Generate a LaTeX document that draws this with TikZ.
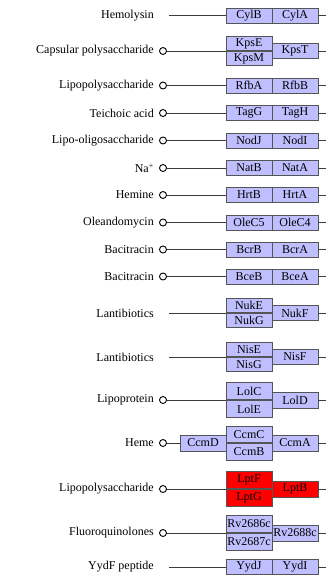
\documentclass[tikz,border=0pt]{standalone}
\usepackage{fontspec}
\setmainfont{Liberation Serif}
\definecolor{genblue}{RGB}{191,191,255}
\definecolor{boxgray}{RGB}{85,85,85}
\definecolor{wiregray}{RGB}{60,60,60}
\begin{document}
\begin{tikzpicture}[x=1pt, y=-1pt,
        lbl/.style={anchor=east, inner sep=0pt, font=\fontsize{12}{14}\selectfont},
        gene/.style={draw=boxgray, fill=genblue, line width=0.9pt, minimum width=46pt, minimum height=15pt, inner sep=0pt, font=\fontsize{12}{14}\selectfont},
        half/.style={gene, minimum height=14pt},
        tall/.style={gene, minimum height=17pt},
        hit/.style={fill=red},
        port/.style={circle, draw=black, line width=0.9pt, minimum size=7pt, inner sep=0pt},
        wire/.style={draw=wiregray, line width=0.9pt}]
    \useasboundingbox (0,0) rectangle (326,576);

    \node[lbl] (hemolysin) at (154,15.5) {Hemolysin};
    \coordinate (s1) at (169,15.5);
    \node[gene] (cylB) at (249,15.5) {CylB};
    \node[gene] (cylA) at (295,15.5) {CylA};
    \coordinate (e1) at (326,15.5);

    \node[lbl] (capsular) at (154,51) {Capsular polysaccharide};
    \node[port] (c2) at (163,51) {};
    \node[half, anchor=south] (kpsE) at (249,51) {KpsE};
    \node[half, anchor=north] (kpsM) at (249,51) {KpsM};
    \node[gene] (kpsT) at (295,51) {KpsT};
    \coordinate (e2) at (326,51);

    \node[lbl] (lps) at (154,85.5) {Lipopolysaccharide};
    \node[port] (c3) at (163,85.5) {};
    \node[gene] (rfbA) at (249,85.5) {RfbA};
    \node[gene] (rfbB) at (295,85.5) {RfbB};
    \coordinate (e3) at (326,85.5);

    \node[lbl] (teichoic) at (154,113) {Teichoic acid};
    \node[port] (c4) at (163,113) {};
    \node[gene] (tagG) at (249,113) {TagG};
    \node[gene] (tagH) at (295,113) {TagH};
    \coordinate (e4) at (326,113);

    \node[lbl] (lipooligo) at (154,140.5) {Lipo-oligosaccharide};
    \node[port] (c5) at (163,140.5) {};
    \node[gene] (nodJ) at (249,140.5) {NodJ};
    \node[gene] (nodI) at (295,140.5) {NodI};
    \coordinate (e5) at (326,140.5);

    \node[lbl] (sodium) at (154,168) {Na\textsuperscript{+}};
    \node[port] (c6) at (163,168) {};
    \node[gene] (natB) at (249,168) {NatB};
    \node[gene] (natA) at (295,168) {NatA};
    \coordinate (e6) at (326,168);

    \node[lbl] (hemine) at (154,195) {Hemine};
    \node[port] (c7) at (163,195) {};
    \node[gene] (hrtB) at (249,195) {HrtB};
    \node[gene] (hrtA) at (295,195) {HrtA};
    \coordinate (e7) at (326,195);

    \node[lbl] (oleando) at (154,222.5) {Oleandomycin};
    \node[port] (c8) at (163,222.5) {};
    \node[gene] (oleC5) at (249,222.5) {OleC5};
    \node[gene] (oleC4) at (295,222.5) {OleC4};
    \coordinate (e8) at (326,222.5);

    \node[lbl] (bacitracinA) at (154,249.5) {Bacitracin};
    \node[port] (c9) at (163,249.5) {};
    \node[gene] (bcrB) at (249,249.5) {BcrB};
    \node[gene] (bcrA) at (295,249.5) {BcrA};
    \coordinate (e9) at (326,249.5);

    \node[lbl] (bacitracinB) at (154,276.5) {Bacitracin};
    \node[port] (c10) at (163,276.5) {};
    \node[gene] (bceB) at (249,276.5) {BceB};
    \node[gene] (bceA) at (295,276.5) {BceA};
    \coordinate (e10) at (326,276.5);

    \node[lbl] (lantiA) at (154,313) {Lantibiotics};
    \coordinate (s11) at (169,313);
    \node[half, anchor=south] (nukE) at (249,313) {NukE};
    \node[half, anchor=north] (nukG) at (249,313) {NukG};
    \node[gene] (nukF) at (295,313) {NukF};
    \coordinate (e11) at (326,313);

    \node[lbl] (lantiB) at (154,357) {Lantibiotics};
    \coordinate (s12) at (169,357);
    \node[half, anchor=south] (nisE) at (249,357) {NisE};
    \node[half, anchor=north] (nisG) at (249,357) {NisG};
    \node[gene] (nisF) at (295,357) {NisF};
    \coordinate (e12) at (326,357);

    \node[lbl] (lipoprotein) at (154,400) {Lipoprotein};
    \node[port] (c13) at (163,400) {};
    \node[tall, anchor=south] (lolC) at (249,400) {LolC};
    \node[tall, anchor=north] (lolE) at (249,400) {LolE};
    \node[gene, minimum height=16pt] (lolD) at (295,400) {LolD};
    \coordinate (e13) at (326,400);

    \node[lbl] (heme) at (154,443) {Heme};
    \node[port] (c14) at (163,443) {};
    \node[gene, minimum height=16pt] (ccmD) at (203,443) {CcmD};
    \node[tall, minimum height=16.5pt, anchor=south] (ccmC) at (249,443) {CcmC};
    \node[tall, minimum height=16.5pt, anchor=north] (ccmB) at (249,443) {CcmB};
    \node[gene, minimum height=16pt] (ccmA) at (295,443) {CcmA};
    \coordinate (e14) at (326,443);

    \node[lbl] (lpsB) at (154,489) {Lipopolysaccharide};
    \node[port] (c15) at (163,489) {};
    \node[tall, hit, anchor=south] (lptF) at (249,489) {LptF};
    \node[tall, hit, anchor=north] (lptG) at (249,489) {LptG};
    \node[gene, hit, minimum height=16pt] (lptB) at (295,489) {LptB};
    \coordinate (e15) at (326,489);

    \node[lbl] (fluoro) at (154,533) {Fluoroquinolones};
    \node[port] (c16) at (163,533) {};
    \node[tall, anchor=south] (rv2686c) at (249,533) {Rv2686c};
    \node[tall, anchor=north] (rv2687c) at (249,533) {Rv2687c};
    \node[gene, minimum height=16pt] (rv2688c) at (295,533) {Rv2688c};
    \coordinate (e16) at (326,533);

    \node[lbl] (yydF) at (154,567) {YydF peptide};
    \coordinate (s17) at (169,567);
    \node[gene] (yydJ) at (249,567) {YydJ};
    \node[gene] (yydI) at (295,567) {YydI};
    \coordinate (e17) at (326,567);

    \draw[wire] (s1) -- (cylB.west) (cylA.east) -- (e1);
    \draw[wire] (c2) -- (kpsE.south west) (kpsT.east) -- (e2);
    \draw[wire] (c3) -- (rfbA.west) (rfbB.east) -- (e3);
    \draw[wire] (c4) -- (tagG.west) (tagH.east) -- (e4);
    \draw[wire] (c5) -- (nodJ.west) (nodI.east) -- (e5);
    \draw[wire] (c6) -- (natB.west) (natA.east) -- (e6);
    \draw[wire] (c7) -- (hrtB.west) (hrtA.east) -- (e7);
    \draw[wire] (c8) -- (oleC5.west) (oleC4.east) -- (e8);
    \draw[wire] (c9) -- (bcrB.west) (bcrA.east) -- (e9);
    \draw[wire] (c10) -- (bceB.west) (bceA.east) -- (e10);
    \draw[wire] (s11) -- (nukE.south west) (nukF.east) -- (e11);
    \draw[wire] (s12) -- (nisE.south west) (nisF.east) -- (e12);
    \draw[wire] (c13) -- (lolC.south west) (lolD.east) -- (e13);
    \draw[wire] (c14) -- (ccmD.west) (ccmA.east) -- (e14);
    \draw[wire] (c15) -- (lptF.south west) (lptB.east) -- (e15);
    \draw[wire] (c16) -- (rv2686c.south west) (rv2688c.east) -- (e16);
    \draw[wire] (s17) -- (yydJ.west) (yydI.east) -- (e17);
\end{tikzpicture}
\end{document}
